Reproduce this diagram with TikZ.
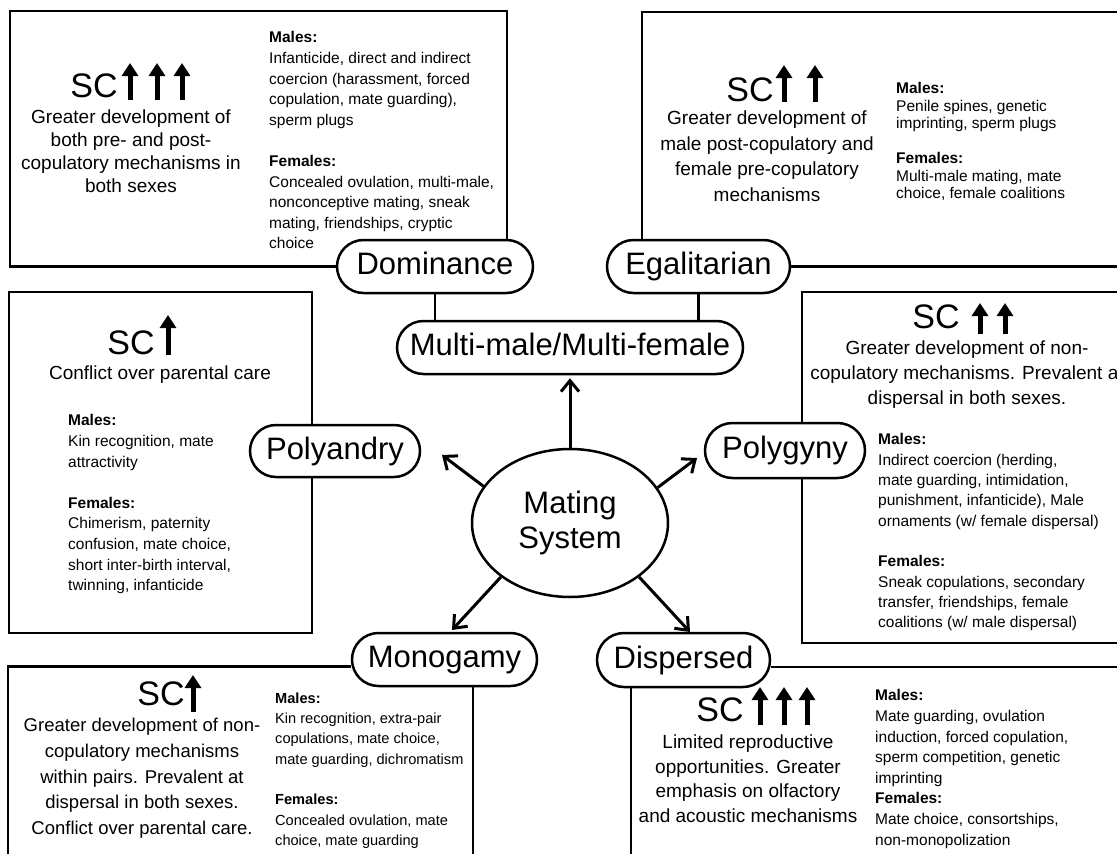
\documentclass[tikz,border=0pt]{standalone}
\usepackage{fontspec}
\setmainfont{Liberation Sans}
\usetikzlibrary{arrows.meta, positioning, backgrounds, shapes.geometric, shapes.misc}
\tikzset{%
	boxline/.style={line width=2.5pt},
	sys/.style={draw, rounded rectangle, line width=2.5pt, fill=white, inner sep=0mm,%
		minimum height=53pt, text height=22.5pt, text depth=6.5pt, font=\fontsize{31}{36}\selectfont},
	hub/.style={draw, ellipse, line width=2.5pt, align=center, inner sep=0mm,%
		minimum width=196pt, minimum height=148pt, font=\fontsize{31}{35}\selectfont},
	link/.style={-{Straight Barb[length=11pt,width=18pt]}, line width=3pt},
	sc/.style={inner sep=0mm, font=\fontsize{34}{40}\selectfont},
	scarrow/.style={line width=5pt, -{Triangle[length=13pt,width=16pt]}},
	gist/.style={align=center, inner sep=0mm, anchor=north},
	traits/.style={align=left, inner sep=0mm, anchor=north west, font=\fontsize{15.5}{20.6}\selectfont}
}
\begin{document}
\begin{tikzpicture}[x=1pt, y=-1pt]
	\useasboundingbox (0,0) rectangle (1117,854);
	\clip (0,0) rectangle (1117,854);

	\node[hub] (mating) at (570,523) {Mating\\System};
	\node[sys, minimum width=346pt] (multi) at (570,347.5) {Multi-male/Multi-female};
	\node[sys, minimum width=196pt] (dominance) at (435,266.5) {Dominance};
	\node[sys, minimum width=183pt] (egalitarian) at (698.5,266.5) {Egalitarian};
	\node[sys, minimum width=170pt, minimum height=52pt] (polyandry) at (335,451) {Polyandry};
	\node[sys, minimum width=160pt, minimum height=55pt] (polygyny) at (785,450.5) {Polygyny};
	\node[sys, minimum width=185pt] (monogamy) at (444.5,659.5) {Monogamy};
	\node[sys, minimum width=173pt, minimum height=54pt] (dispersed) at (683.5,660) {Dispersed};

	\coordinate (tl-ne) at (507,11);
	\coordinate (tr-nw) at (642,12);
	\coordinate (bl-se) at (473,870);
	\coordinate (br-sw) at (631,870);
	\coordinate (pa-tip) at (442,455);
	\coordinate (pg-tip) at (697,458);
	\coordinate (mo-tip) at (452,630);
	\coordinate (di-tip) at (690,632);

	\draw[link, shorten >=3pt] (mating.north) -- (multi.south);
	\draw[link] (mating.157) -- (pa-tip);
	\draw[link] (mating.22) -- (pg-tip);
	\draw[link] (mating.218) -- (mo-tip);
	\draw[link] (mating.-38) -- (di-tip);
	\draw[boxline] (dominance.south) -- (dominance.south |- multi.north);
	\draw[boxline] (egalitarian.south) -- (egalitarian.south |- multi.north);

	\begin{scope}[on background layer]
		\draw[boxline] (dominance.west) -| (10,11) -| (dominance.north -| tl-ne);
		\draw[boxline] (egalitarian.north -| tr-nw) |- (1130,12) |- (egalitarian.east);
		\draw[boxline] (9,292) rectangle (312,633);
		\draw[boxline] (802,292) rectangle (1130,643);
		\draw[boxline] ([yshift=-7pt]monogamy.west) -| (8,870);
		\draw[boxline] (monogamy.south -| bl-se) -- (bl-se);
		\draw[boxline] ([yshift=-7pt]dispersed.east) -- ++(400,0);
		\draw[boxline] (dispersed.south -| br-sw) -- (br-sw);
	\end{scope}

	% Dominance box
	\node[sc] (sc-dom) at (94,86) {SC};
	\draw[scarrow] (130,100) -- (130,63);
	\draw[scarrow] (157,100) -- (157,63);
	\draw[scarrow] (182,100) -- (182,63);
	\node[gist, font=\fontsize{19}{22.7}\selectfont] (gist-dom) at (131,110)
		{Greater development of\\both pre- and post-\\copulatory mechanisms in\\both sexes};
	\node[traits] (traits-dom) at (269,31.5)
		{\textbf{Males:}\\Infanticide, direct and indirect\\coercion (harassment, forced\\copulation, mate guarding),\\sperm plugs\\[20.6pt]%
		\textbf{Females:}\\Concealed ovulation, multi-male,\\nonconceptive mating, sneak\\mating, friendships, cryptic\\choice};

	% Egalitarian box
	\node[sc] (sc-ega) at (750,90) {SC};
	\draw[scarrow] (784,102) -- (784,65);
	\draw[scarrow] (815,102) -- (815,65);
	\node[gist, font=\fontsize{19}{25.5}\selectfont] (gist-ega) at (767,111)
		{Greater development of\\male post-copulatory and\\female pre-copulatory\\mechanisms};
	\node[traits, font=\fontsize{15.5}{17.5}\selectfont] (traits-ega) at (896,82.5)
		{\textbf{Males:}\\Penile spines, genetic\\imprinting, sperm plugs\\[17.5pt]%
		\textbf{Females:}\\Multi-male mating, mate\\choice, female coalitions};

	% Polyandry box
	\node[sc] (sc-pa) at (131,343) {SC};
	\draw[scarrow] (168,355) -- (168,315);
	\node[inner sep=0mm, font=\fontsize{19}{23}\selectfont] (gist-pa) at (160,375)
		{Conflict over parental care};
	\node[traits] (traits-pa) at (68,414.5)
		{\textbf{Males:}\\Kin recognition, mate\\attractivity\\[20.6pt]%
		\textbf{Females:}\\Chimerism, paternity\\confusion, mate choice,\\short inter-birth interval,\\twinning, infanticide};

	% Polygyny box
	\node[sc] (sc-pg) at (936,317) {SC};
	\draw[scarrow] (980,334) -- (980,303);
	\draw[scarrow] (1005,334) -- (1005,303);
	\node[gist, font=\fontsize{19}{25}\selectfont] (gist-pg) at (967,341)
		{Greater development of non-\\copulatory mechanisms. Prevalent at\\dispersal in both sexes.};
	\node[traits, font=\fontsize{15.5}{20.3}\selectfont] (traits-pg) at (878,433.5)
		{\textbf{Males:}\\Indirect coercion (herding,\\mate guarding, intimidation,\\punishment, infanticide), Male\\ornaments (w/ female dispersal)\\[20.3pt]%
		\textbf{Females:}\\Sneak copulations, secondary\\transfer, friendships, female\\coalitions (w/ male dispersal)};

	% Monogamy box
	\node[sc] (sc-mo) at (161,694) {SC};
	\draw[scarrow] (193,712) -- (193,675);
	\node[gist, font=\fontsize{18.5}{25.7}\selectfont] (gist-mo) at (142,718)
		{Greater development of non-\\copulatory mechanisms\\within pairs. Prevalent at\\dispersal in both sexes.\\Conflict over parental care.};
	\node[traits, font=\fontsize{14.6}{20.3}\selectfont] (traits-mo) at (275,692.5)
		{\textbf{Males:}\\Kin recognition, extra-pair\\copulations, mate choice,\\mate guarding, dichromatism\\[20.3pt]%
		\textbf{Females:}\\Concealed ovulation, mate\\choice, mate guarding};

	% Dispersed box
	\node[sc] (sc-di) at (720,710) {SC};
	\draw[scarrow] (760,725) -- (760,687);
	\draw[scarrow] (784,725) -- (784,687);
	\draw[scarrow] (807,725) -- (807,687);
	\node[gist, font=\fontsize{19}{24.5}\selectfont] (gist-di) at (748,735)
		{Limited reproductive\\opportunities. Greater\\emphasis on olfactory\\and acoustic mechanisms};
	\node[traits] (traits-di) at (875,689.5)
		{\textbf{Males:}\\Mate guarding, ovulation\\induction, forced copulation,\\sperm competition, genetic\\imprinting\\%
		\textbf{Females:}\\Mate choice, consortships,\\non-monopolization};
\end{tikzpicture}
\end{document}
